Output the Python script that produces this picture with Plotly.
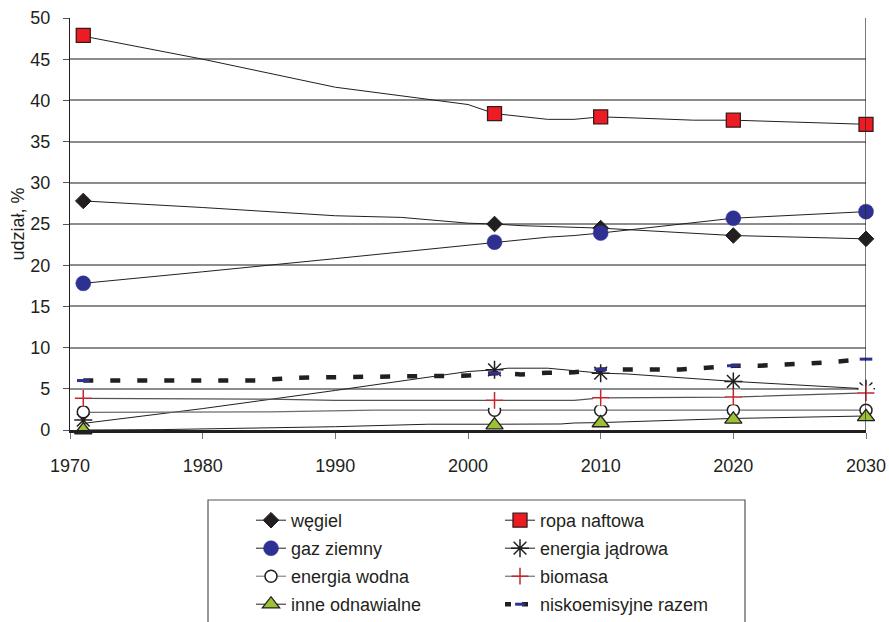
import plotly.graph_objects as go

# ---------------- data ----------------
marker_years = [1971, 2002, 2010, 2020, 2030]

coal_years = [1971, 1980, 1990, 1995, 2000, 2002, 2004, 2008, 2010, 2020, 2030]
coal_vals = [27.8, 27.0, 26.0, 25.8, 25.1, 25.0, 24.8, 24.6, 24.5, 23.6, 23.2]
coal_marks = [27.8, 25.0, 24.5, 23.6, 23.2]

oil_years = [1971, 1980, 1990, 1996, 2000, 2002, 2006, 2008, 2010, 2012, 2017, 2020, 2030]
oil_vals = [47.8, 45.0, 41.6, 40.3, 39.5, 38.4, 37.7, 37.7, 38.0, 37.9, 37.6, 37.6, 37.1]
oil_marks = [47.9, 38.4, 38.0, 37.6, 37.1]

gas_years = [1971, 1975, 1980, 1990, 1995, 2000, 2002, 2006, 2008, 2010, 2020, 2030]
gas_vals = [17.8, 18.4, 19.2, 20.8, 21.6, 22.4, 22.8, 23.4, 23.6, 23.9, 25.7, 26.5]
gas_marks = [17.8, 22.8, 23.9, 25.7, 26.5]

nuc_years = [1971, 1980, 1990, 2000, 2002, 2003, 2006, 2010, 2012, 2020, 2030]
nuc_vals = [0.8, 2.6, 4.8, 7.1, 7.3, 7.5, 7.5, 6.9, 6.8, 5.9, 5.0]
nuc_marks = [1.2, 7.3, 6.9, 5.9, 5.0]

hydro_years = [1971, 1985, 1993, 2002, 2010, 2020, 2030]
hydro_vals = [2.15, 2.2, 2.4, 2.4, 2.4, 2.4, 2.4]
hydro_marks = [2.2, 2.4, 2.4, 2.4, 2.4]

bio_years = [1971, 1985, 1990, 2002, 2008, 2010, 2020, 2030]
bio_vals = [3.85, 3.75, 3.6, 3.6, 3.6, 3.9, 4.0, 4.5]
bio_marks = [3.85, 3.6, 3.9, 4.0, 4.5]

oth_years = [1971, 1977, 1990, 1997, 2002, 2007, 2008, 2010, 2020, 2030]
oth_vals = [0.0, 0.05, 0.4, 0.7, 0.7, 0.73, 0.85, 0.9, 1.4, 1.7]
oth_marks = [0.0, 0.6, 0.85, 1.3, 1.6]

low_years = [1971, 1980, 1984, 1987, 1990, 1996, 2000, 2002, 2004, 2006, 2008, 2010,
             2016, 2018, 2020, 2022, 2025, 2027, 2030]
low_vals = [6.0, 6.0, 6.0, 6.35, 6.4, 6.4, 6.6, 6.9, 6.75, 6.95, 7.0, 7.35,
            7.35, 7.55, 7.8, 7.8, 8.0, 8.2, 8.6]
low_marks = [6.0, 6.9, 7.35, 7.8, 8.6]

x_ticks = [1970, 1980, 1990, 2000, 2010, 2020, 2030]
y_ticks = [0, 5, 10, 15, 20, 25, 30, 35, 40, 45, 50]

# ---------------- styles ----------------
series = [
    dict(name="węgiel", xs=coal_years, ys=coal_vals, ms=coal_marks, lc="#231F20", lw=1, leg="legend",
         marker=dict(symbol="diamond", size=12, color="#231F20", line=dict(color="#231F20", width=1))),
    dict(name="ropa naftowa", xs=oil_years, ys=oil_vals, ms=oil_marks, lc="#231F20", lw=1, leg="legend2",
         marker=dict(symbol="square", size=14, color="#ED1C24", line=dict(color="#3a1a1a", width=1.3))),
    dict(name="gaz ziemny", xs=gas_years, ys=gas_vals, ms=gas_marks, lc="#231F20", lw=1, leg="legend",
         marker=dict(symbol="circle", size=15, color="#2E3192", line=dict(color="#2E3192", width=0.5))),
    dict(name="energia jądrowa", xs=nuc_years, ys=nuc_vals, ms=nuc_marks, lc="#231F20", lw=1, leg="legend2",
         marker=dict(symbol="asterisk-open", size=15, color="#231F20", line=dict(color="#231F20", width=1.5))),
    dict(name="energia wodna", xs=hydro_years, ys=hydro_vals, ms=hydro_marks, lc="#6d6d6d", lw=1.2, leg="legend",
         marker=dict(symbol="circle", size=12, color="white", line=dict(color="#231F20", width=1.5))),
    dict(name="biomasa", xs=bio_years, ys=bio_vals, ms=bio_marks, lc="#555555", lw=1.2, leg="legend2",
         marker=dict(symbol="cross-thin-open", size=12, color="#C1272D", line=dict(color="#C1272D", width=1.5))),
    dict(name="inne odnawialne", xs=oth_years, ys=oth_vals, ms=oth_marks, lc="#231F20", lw=1, leg="legend",
         marker=dict(symbol="triangle-up", size=15, color="#9DC134", line=dict(color="#231F20", width=1.3))),
]

fig = go.Figure()

# lines
for s in series:
    fig.add_trace(go.Scatter(x=s["xs"], y=s["ys"], mode="lines", showlegend=False,
                             line=dict(color=s["lc"], width=s["lw"]), hoverinfo="skip"))
fig.add_trace(go.Scatter(x=low_years, y=low_vals, mode="lines", showlegend=False,
                         line=dict(color="#231F20", width=4.5, dash="10px,17px"), hoverinfo="skip"))

# markers (with white backing behind the biomass crosses, as in the original)
for s in series:
    if s["name"] == "biomasa":
        fig.add_trace(go.Scatter(x=marker_years, y=s["ms"], mode="markers", showlegend=False,
                                 cliponaxis=False, hoverinfo="skip",
                                 marker=dict(symbol="square", size=15, color="white",
                                             line=dict(width=0))))
    fig.add_trace(go.Scatter(x=marker_years, y=s["ms"], mode="markers", showlegend=False,
                             marker=s["marker"], cliponaxis=False, name=s["name"]))
fig.add_trace(go.Scatter(x=marker_years, y=low_marks, mode="markers", showlegend=False, cliponaxis=False,
                         name="niskoemisyjne razem",
                         marker=dict(symbol="line-ew", size=9, color="#2E3192",
                                     line=dict(color="#2E3192", width=3))))

# legend entries (two columns = two legends)
for i, s in enumerate(series):
    fig.add_trace(go.Scatter(x=[None], y=[None], mode="lines+markers", name=s["name"],
                             legend=s["leg"], legendgroup="g%d" % i,
                             line=dict(color=s["lc"], width=1), marker=s["marker"]))
fig.add_trace(go.Scatter(x=[None], y=[None], mode="lines+markers", name="niskoemisyjne razem",
                         legend="legend2", legendgroup="g7",
                         line=dict(color="#231F20", width=4.5, dash="6px,11px"),
                         marker=dict(symbol="line-ew", size=7, color="#2E3192",
                                     line=dict(color="#2E3192", width=3))))

font = "Liberation Sans, Arial, sans-serif"
leg_common = dict(orientation="v", yanchor="top", xanchor="left", y=-(502 - 430) / 412,
                  font=dict(size=18, color="#231F20"), bgcolor="rgba(0,0,0,0)", borderwidth=0,
                  traceorder="grouped", tracegroupgap=1.6)

fig.update_layout(
    width=889, height=622,
    margin=dict(l=70, r=23, t=18, b=192, autoexpand=False),
    paper_bgcolor="white", plot_bgcolor="white",
    font=dict(family=font, size=18, color="#231F20"),
    showlegend=True,
    legend=dict(x=(251 - 70) / 796, **leg_common),
    legend2=dict(x=(500 - 70) / 796, **leg_common),
    xaxis=dict(range=[1970, 2030], tickvals=x_ticks, showgrid=False, zeroline=False,
               showline=True, linecolor="#231F20", linewidth=2.5, automargin=False,
               ticks="outside", ticklen=6, tickcolor="#777777", tickwidth=1.3,
               tickfont=dict(size=18, color="#231F20"), ticklabelstandoff=12),
    yaxis=dict(range=[0, 50], tickvals=y_ticks, showgrid=True, gridcolor="#8c8c8c", gridwidth=1.5,
               zeroline=False, showline=True, linecolor="#231F20", linewidth=1.2, automargin=False,
               ticks="outside", ticklen=6, tickcolor="#555555", tickwidth=1.3,
               tickfont=dict(size=18, color="#231F20"), ticklabelstandoff=9,
               title=dict(text="udział, %", font=dict(size=18, color="#231F20"), standoff=0)),
    shapes=[
        dict(type="line", xref="paper", yref="y", x0=0, x1=1, y0=5, y1=5, layer="below",
             line=dict(color="#231F20", width=1)),
        dict(type="line", xref="x", yref="paper", x0=2030, x1=2030, y0=0, y1=1,
             line=dict(color="#231F20", width=1.2)),
        dict(type="rect", xref="paper", yref="paper",
             x0=(208 - 70) / 796, x1=(745 - 70) / 796, y0=(430 - 500) / 412, y1=(430 - 640) / 412,
             line=dict(color="#555555", width=1.2), fillcolor="rgba(0,0,0,0)"),
    ],
)

# remove the default 8px body margin so the 889x622 figure fills the window exactly
fig.write_html("out.html", config={"displayModeBar": False},
               post_script="document.body.style.margin='0';document.body.style.overflow='hidden';")
